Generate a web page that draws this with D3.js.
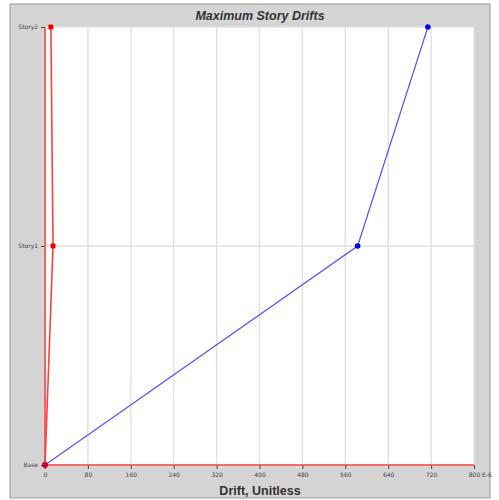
<!DOCTYPE html>
<html><head><meta charset="utf-8">
<script src="https://cdn.jsdelivr.net/npm/d3@7"></script>
<style>html,body{margin:0;padding:0;background:#fff;}svg{display:block;}</style>
</head><body>
<script>
const stories = ["Base", "Story1", "Story2"];
const driftRed = [0, 15, 11];
const driftBlue = [0, 583, 714];
const xTicks = [0, 80, 160, 240, 320, 400, 480, 560, 640, 720, 800];
const title = "Maximum Story Drifts";
const xTitle = "Drift, Unitless";
const unitSuffix = "E-6";

const W = 499, H = 500;
const svg = d3.select("body").append("svg").attr("width", W).attr("height", H);

// frame
svg.append("rect").attr("x", 10).attr("y", 4).attr("width", 480).attr("height", 494)
  .attr("fill", "#d4d4d4").attr("stroke", "#9a9a9a").attr("stroke-width", 1);

const x = d3.scaleLinear().domain([0, 800]).range([45, 474]);
const y = d3.scalePoint().domain(stories).range([465, 27]);

// plot area
svg.append("rect").attr("x", x(0)).attr("y", y("Story2"))
  .attr("width", x(800) - x(0)).attr("height", y("Base") - y("Story2")).attr("fill", "#fff");

// grid
svg.append("g").selectAll("line").data(xTicks).join("line")
  .attr("x1", d => x(d)).attr("x2", d => x(d))
  .attr("y1", y("Story2")).attr("y2", y("Base"))
  .attr("stroke", "#e2e2e2").attr("stroke-width", 1.5);
svg.append("g").selectAll("line").data(stories).join("line")
  .attr("x1", x(0)).attr("x2", x(800))
  .attr("y1", d => y(d)).attr("y2", d => y(d))
  .attr("stroke", "#e2e2e2").attr("stroke-width", 1.5);

// axes
const xAxis = svg.append("g").attr("transform", `translate(0,${y("Base")})`)
  .call(d3.axisBottom(x).tickValues(xTicks).tickSize(4).tickPadding(4));
xAxis.select(".domain").remove();
xAxis.selectAll("line").attr("stroke", "#444");
xAxis.selectAll("text").attr("font-family", "DejaVu Sans, sans-serif").attr("font-size", 6).attr("fill", "#444");
svg.append("text").attr("x", x(800) + 8).attr("y", y("Base") + 12.3)
  .attr("font-family", "DejaVu Sans, sans-serif").attr("font-size", 6).attr("fill", "#444").text(unitSuffix);

const yAxis = svg.append("g").attr("transform", `translate(${x(0)},0)`)
  .call(d3.axisLeft(y).tickSize(4).tickPadding(3));
yAxis.select(".domain").remove();
yAxis.selectAll("line").attr("stroke", "#444");
yAxis.selectAll("text").attr("font-family", "DejaVu Sans, sans-serif").attr("font-size", 6).attr("fill", "#444");

// red axis edges
svg.append("line").attr("x1", x(0)).attr("x2", x(0)).attr("y1", y("Story2")).attr("y2", y("Base"))
  .attr("stroke", "#ff4040").attr("stroke-width", 1.6);
svg.append("line").attr("x1", x(0)).attr("x2", x(800)).attr("y1", y("Base")).attr("y2", y("Base"))
  .attr("stroke", "#ff4040").attr("stroke-width", 1.6);

// series
const line = d3.line().x(d => x(d.v)).y(d => y(d.s));
const redData = stories.map((s, i) => ({s, v: driftRed[i]}));
const blueData = stories.map((s, i) => ({s, v: driftBlue[i]}));

svg.append("path").datum(blueData).attr("d", line).attr("fill", "none")
  .attr("stroke", "#5555ff").attr("stroke-width", 1.2);
svg.append("path").datum(redData).attr("d", line).attr("fill", "none")
  .attr("stroke", "#ff4040").attr("stroke-width", 1.6);

svg.append("g").selectAll("circle").data(blueData).join("circle")
  .attr("cx", d => x(d.v)).attr("cy", d => y(d.s)).attr("r", 2.8).attr("fill", "#0000ee");
svg.append("g").selectAll("rect").data(redData).join("rect")
  .attr("x", d => x(d.v) - 2.5).attr("y", d => y(d.s) - 2.5).attr("width", 5).attr("height", 5)
  .attr("rx", 1).attr("fill", "#ee0000");

// titles
svg.append("text").attr("x", 260).attr("y", 20).attr("text-anchor", "middle")
  .attr("font-family", "Liberation Sans, Arial, sans-serif").attr("font-weight", "bold").attr("font-style", "italic")
  .attr("font-size", 12.5).attr("fill", "#333").text(title);
svg.append("text").attr("x", 260).attr("y", 495).attr("text-anchor", "middle")
  .attr("font-family", "Liberation Sans, Arial, sans-serif").attr("font-weight", "bold")
  .attr("font-size", 12.5).attr("fill", "#333").text(xTitle);
</script>
</body></html>
